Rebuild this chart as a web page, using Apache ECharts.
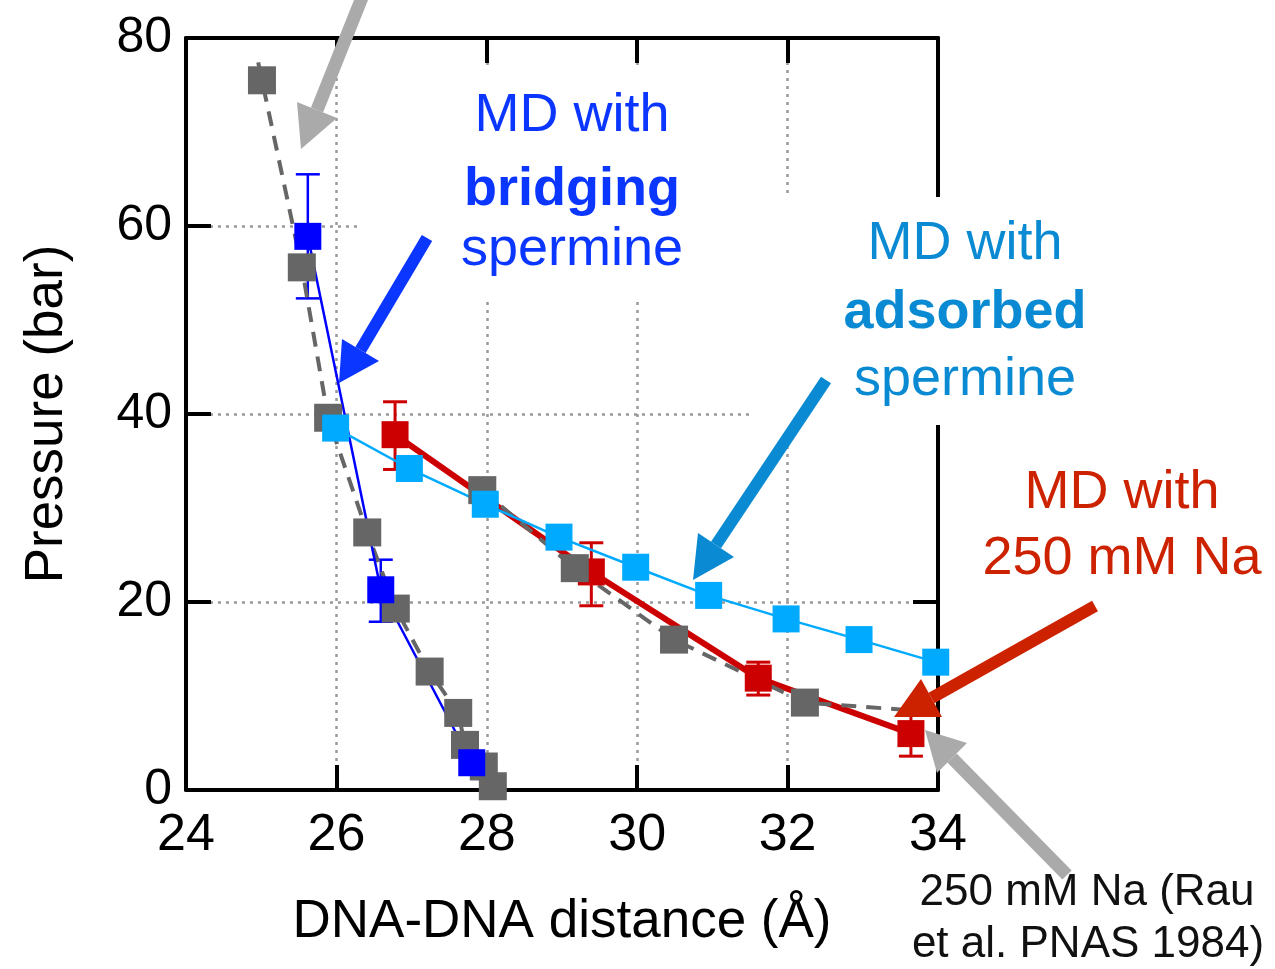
<!DOCTYPE html>
<html>
<head>
<meta charset="utf-8">
<script src="https://cdn.jsdelivr.net/npm/echarts@6/dist/echarts.min.js"></script>
<style>
    html, body { margin: 0; padding: 0; background: #fff; }
    #main { width: 1275px; height: 969px; }
</style>
</head>
<body>
<div id="main"></div>
<script>
    // axis ranges / ticks
    const xMin = 24, xMax = 34, xStep = 2;
    const yMin = 0, yMax = 80, yStep = 20;

    // 250 mM Na, Rau et al. PNAS 1984 (grey squares, dashed) - steep branch
    // first vertex is only the start of the dashed line (no marker)
    const rauSteepX = [24.96, 25.01, 25.54, 25.89, 26.41, 26.79, 27.24, 27.62, 27.71, 27.96, 28.08];
    const rauSteepY = [77.4, 75.5, 55.6, 39.6, 27.4, 19.3, 12.6, 8.2, 4.8, 2.5, 0.4];
    // shallow branch, last vertex is only the end of the dashed line
    const rauFlatX = [27.94, 29.17, 30.49, 32.23, 33.95];
    const rauFlatY = [31.9, 23.6, 16.0, 9.3, 8.3];

    // MD with bridging spermine
    const bridgeX = [25.62, 26.59, 27.80];
    const bridgeY = [58.9, 21.3, 2.9];
    const bridgeLo = [52.3, 17.9, null];
    const bridgeHi = [65.5, 24.5, null];

    // MD with adsorbed spermine
    const adsorbX = [25.99, 26.97, 27.98, 28.96, 29.98, 30.95, 31.98, 32.95, 33.97];
    const adsorbY = [38.5, 34.2, 30.4, 26.9, 23.7, 20.7, 18.2, 16.0, 13.6];

    // MD with 250 mM Na
    const naX = [26.78, 29.39, 31.61, 33.64];
    const naY = [37.8, 23.2, 11.9, 6.0];
    const naLo = [34.1, 19.6, 10.1, 3.6];
    const naHi = [41.3, 26.3, 13.6, 8.4];

    const FONT = '"Liberation Sans", Helvetica, Arial, sans-serif';
    const BLUE = '#0a36ff', CYAN = '#0a8ad2', RED = '#cc2200', GREY_ARROW = '#aaaaaa';

    function pts(xs, ys) {
        return xs.map((x, i) => [x, ys[i]]);
    }
    function errData(xs, lo, hi) {
        let out = [];
        xs.forEach((x, i) => {
            if (lo[i] != null) out.push([x, lo[i], hi[i]]);
        });
        return out;
    }
    function errSeries(data, color, width) {
        return {
            type: 'custom',
            data: data,
            encode: {x: 0, y: [1, 2]},
            renderItem: function (params, api) {
                let x = api.value(0);
                let a = api.coord([x, api.value(1)]);
                let b = api.coord([x, api.value(2)]);
                let cap = 12;
                let st = {stroke: color, lineWidth: width};
                return {
                    type: 'group',
                    children: [
                        {type: 'line', shape: {x1: a[0], y1: a[1], x2: b[0], y2: b[1]}, style: st},
                        {type: 'line', shape: {x1: a[0] - cap, y1: a[1], x2: a[0] + cap, y2: a[1]}, style: st},
                        {type: 'line', shape: {x1: b[0] - cap, y1: b[1], x2: b[0] + cap, y2: b[1]}, style: st}
                    ]
                };
            }
        };
    }

    let rauSteep = pts(rauSteepX, rauSteepY).map((p, i) => i === 0 ? {value: p, symbol: 'none'} : p);
    let rauFlat = pts(rauFlatX, rauFlatY).map((p, i, arr) => i === arr.length - 1 ? {value: p, symbol: 'none'} : p);

    // arrows: shaft start, tip, two base corners (page pixels)
    function arrow(from, tip, c1, c2, color, width) {
        let mid = [(c1[0] + c2[0]) / 2, (c1[1] + c2[1]) / 2];
        return [
            {type: 'polyline', z: 10, shape: {points: [from, mid]}, style: {stroke: color, lineWidth: width, fill: null}},
            {type: 'polygon', z: 10, shape: {points: [c1, tip, c2]}, style: {fill: color}}
        ];
    }
    function label(text, x, y, color, size, bold) {
        return {
            type: 'text', z: 10, x: x, y: y,
            style: {
                text: text, fill: color, fontSize: size, fontFamily: FONT,
                fontWeight: bold ? 'bold' : 'normal', align: 'center', verticalAlign: 'middle'
            }
        };
    }

    let graphics = [
        // white boxes behind the annotation texts
        {type: 'rect', z: 1, shape: {x: 362, y: 70, width: 402, height: 228}, style: {fill: '#fff'}},
        {type: 'rect', z: 1, shape: {x: 753, y: 197, width: 360, height: 228}, style: {fill: '#fff'}},

        label('MD with', 572, 116, BLUE, 54, false),
        label('bridging', 572, 190, BLUE, 54, true),
        label('spermine', 572, 250, BLUE, 54, false),

        label('MD with', 965, 244, CYAN, 54, false),
        label('adsorbed', 965, 313, CYAN, 54, true),
        label('spermine', 965, 380, CYAN, 54, false),

        label('MD with', 1122, 493, RED, 54, false),
        label('250 mM Na', 1122, 559, RED, 54, false),

        label('250 mM Na (Rau', 1087, 893, '#111', 44, false),
        label('et al. PNAS 1984)', 1088, 945, '#111', 44, false)
    ];
    graphics = graphics
        .concat(arrow([363, -5], [301, 149], [297, 102], [337, 118], GREY_ARROW, 13))
        .concat(arrow([427, 238], [339, 383], [342, 339], [379, 361], BLUE, 12))
        .concat(arrow([826, 380], [693, 580], [698, 533], [734, 557], CYAN, 12))
        .concat(arrow([1095, 606], [894, 717], [921, 679], [942, 717], RED, 12))
        .concat(arrow([1067, 875], [925, 730], [967, 743], [937, 773], GREY_ARROW, 13));

    const axisLine = {show: true, onZero: false, lineStyle: {color: '#000', width: 4}};
    const axisTick = {show: true, inside: true, length: 25, lineStyle: {color: '#000', width: 4}};
    const gridLine = {show: true, lineStyle: {color: '#999', width: 2.5, type: [3, 5]}};

    let chart = echarts.init(document.getElementById('main'));
    chart.setOption({
        animation: false,
        backgroundColor: '#fff',
        textStyle: {fontFamily: FONT},
        grid: {left: 186, top: 38, width: 752, height: 752, outerBoundsMode: 'none'},
        xAxis: [{
            type: 'value', position: 'bottom', min: xMin, max: xMax, interval: xStep,
            axisLine: axisLine, axisTick: axisTick, splitLine: gridLine,
            axisLabel: {fontSize: 52, color: '#000', margin: 20, fontFamily: FONT, showMinLabel: true, showMaxLabel: true},
            name: 'DNA-DNA distance (Å)', nameLocation: 'middle', nameGap: 106,
            nameTextStyle: {fontSize: 53, color: '#000', fontFamily: FONT}
        }, {
            type: 'value', position: 'top', min: xMin, max: xMax, interval: xStep,
            axisLine: axisLine, axisTick: axisTick, splitLine: {show: false},
            axisLabel: {show: false}
        }],
        yAxis: [{
            type: 'value', position: 'left', min: yMin, max: yMax, interval: yStep,
            axisLine: axisLine, axisTick: axisTick, splitLine: gridLine,
            axisLabel: {fontSize: 50, color: '#000', margin: 14, fontFamily: FONT, showMinLabel: true, showMaxLabel: true},
            name: 'Pressure (bar)', nameLocation: 'middle', nameGap: 112, nameRotate: 90,
            nameTextStyle: {fontSize: 53, color: '#000', fontFamily: FONT}
        }, {
            type: 'value', position: 'right', min: yMin, max: yMax, interval: yStep,
            axisLine: axisLine, axisTick: axisTick, splitLine: {show: false},
            axisLabel: {show: false}
        }],
        series: [
            {
                name: 'MD 250 mM Na', type: 'line', data: pts(naX, naY), clip: false,
                symbol: 'rect', symbolSize: 27,
                itemStyle: {color: '#cc0000'},
                lineStyle: {color: '#cc0000', width: 6}
            },
            errSeries(errData(naX, naLo, naHi), '#cc0000', 3),
            {
                name: 'Rau 1984', type: 'line', data: rauSteep, clip: false,
                symbol: 'rect', symbolSize: 28,
                itemStyle: {color: '#666666'},
                lineStyle: {color: '#666666', width: 4, type: [15, 10]}
            },
            {
                name: 'Rau 1984 b', type: 'line', data: rauFlat, clip: false,
                symbol: 'rect', symbolSize: 28,
                itemStyle: {color: '#666666'},
                lineStyle: {color: '#666666', width: 4, type: [15, 10]}
            },
            {
                name: 'MD bridging', type: 'line', data: pts(bridgeX, bridgeY), clip: false,
                symbol: 'rect', symbolSize: 27,
                itemStyle: {color: '#0000ff'},
                lineStyle: {color: '#0000ff', width: 2.5}
            },
            errSeries(errData(bridgeX, bridgeLo, bridgeHi), '#0000ff', 2.5),
            {
                name: 'MD adsorbed', type: 'line', data: pts(adsorbX, adsorbY), clip: false,
                symbol: 'rect', symbolSize: 27,
                itemStyle: {color: '#00aaff'},
                lineStyle: {color: '#00aaff', width: 2.5}
            }
        ],
        graphic: graphics
    });
</script>
</body>
</html>
